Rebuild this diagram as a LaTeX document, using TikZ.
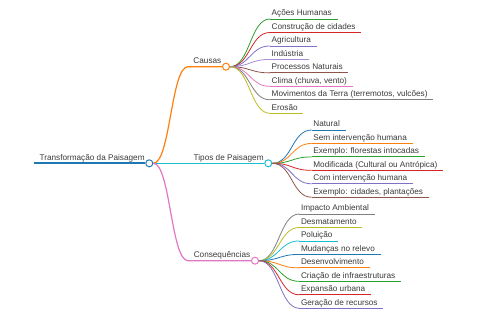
\documentclass[tikz,border=0pt]{standalone}
\usepackage{fontspec}
\setmainfont{Liberation Sans}
\usetikzlibrary{positioning}
\definecolor{mapBlue}{HTML}{1F77B4}
\definecolor{mapOrange}{HTML}{FF7F0E}
\definecolor{mapGreen}{HTML}{2CA02C}
\definecolor{mapRed}{HTML}{D62728}
\definecolor{mapPurple}{HTML}{7F6FC8}
\definecolor{mapLilac}{HTML}{A38ED8}
\definecolor{mapBrown}{HTML}{8C564B}
\definecolor{mapPink}{HTML}{E377C2}
\definecolor{mapGray}{HTML}{7F7F7F}
\definecolor{mapOlive}{HTML}{BCBD22}
\definecolor{mapCyan}{HTML}{17BECF}
\definecolor{mapText}{HTML}{3A3A3A}

\begin{document}
\begin{tikzpicture}[x=1pt,y=-1pt,
    every node/.style={font=\fontsize{8.2}{10}\selectfont,text=mapText},
    knot/.style={circle,draw=#1,fill=white,line width=1pt,inner sep=0pt,minimum size=7pt},
    leaf/.style={anchor=south west,inner xsep=1.5pt,inner ysep=1pt,text height=6pt,text depth=2pt},
    branch/.style={anchor=south east,inner xsep=0.5pt,inner ysep=1pt,text height=6pt,text depth=2pt},
    mmlink/.style={to path={.. controls +(#1,0) and +(-#1,0) .. (\tikztotarget)}},
    mmlink/.default=20pt]
  \useasboundingbox (0,0) rectangle (480,320);

  % root and branches
  \node[knot=mapBlue] (rootdot) at (149.3,163.3) {};
  \node[knot=mapOrange] (causasdot) at (226,66.7) {};
  \node[knot=mapCyan] (tiposdot) at (268.3,163.3) {};
  \node[knot=mapPink] (consdot) at (255,260.7) {};
  \coordinate (causasin) at (188,66.7);
  \coordinate (consin) at (188,260.7);

  \node[branch] (root) at (rootdot.west) {Transformação da Paisagem};
  \node[branch] (causas) at (causasdot.west) {Causas};
  \node[branch] (tipos) at (tiposdot.west) {Tipos de Paisagem};
  \node[branch] (cons) at (consdot.west) {Consequências};

  \draw[mapBlue,line width=1.8pt,shorten <=-5pt] (root.south west) -- (rootdot.west);
  \draw[mapOrange,line width=1.2pt] (rootdot.east) to[mmlink=17pt] (causasin) -- (causasdot.west);
  \draw[mapCyan,line width=1.2pt] (rootdot.east) -- (tiposdot.west);
  \draw[mapPink,line width=1.2pt] (rootdot.east) to[mmlink=17pt] (consin) -- (consdot.west);

  % Causas
  \foreach \txt/\col [count=\i] in {Ações Humanas/mapGreen, Construção de cidades/mapRed,
      Agricultura/mapPurple, Indústria/mapLilac, Processos Naturais/mapBrown,
      {Clima (chuva, vento)}/mapPink, {Movimentos da Terra (terremotos, vulcões)}/mapGray,
      Erosão/mapOlive}{
    \node[leaf] (c\i) at (270,{19+13.47*(\i-1)}) {\txt};
    \draw[\col,line width=0.8pt,shorten >=-4pt] (c\i.south west) -- (c\i.south east);
    \draw[\col,line width=0.8pt] (causasdot.east) to[mmlink] (c\i.south west);
  }

  % Tipos de Paisagem
  \foreach \txt/\col [count=\i] in {Natural/mapBlue, Sem intervenção humana/mapOrange,
      Exemplo: florestas intocadas/mapGreen, Modificada (Cultural ou Antrópica)/mapRed,
      Com intervenção humana/mapPurple, {Exemplo: cidades, plantações}/mapBrown}{
    \node[leaf] (t\i) at (311.7,{130+13.45*(\i-1)}) {\txt};
    \draw[\col,line width=0.8pt,shorten >=-4pt] (t\i.south west) -- (t\i.south east);
    \draw[\col,line width=0.8pt] (tiposdot.east) to[mmlink] (t\i.south west);
  }

  % Consequências
  \foreach \txt/\col [count=\i] in {Impacto Ambiental/mapGray, Desmatamento/mapOlive,
      Poluição/mapCyan, Mudanças no relevo/mapBlue, Desenvolvimento/mapOrange,
      Criação de infraestruturas/mapGreen, Expansão urbana/mapRed,
      Geração de recursos/mapPurple}{
    \node[leaf] (q\i) at (299.3,{214+13.47*(\i-1)}) {\txt};
    \draw[\col,line width=0.8pt,shorten >=-4pt] (q\i.south west) -- (q\i.south east);
    \draw[\col,line width=0.8pt] (consdot.east) to[mmlink] (q\i.south west);
  }
\end{tikzpicture}
\end{document}
